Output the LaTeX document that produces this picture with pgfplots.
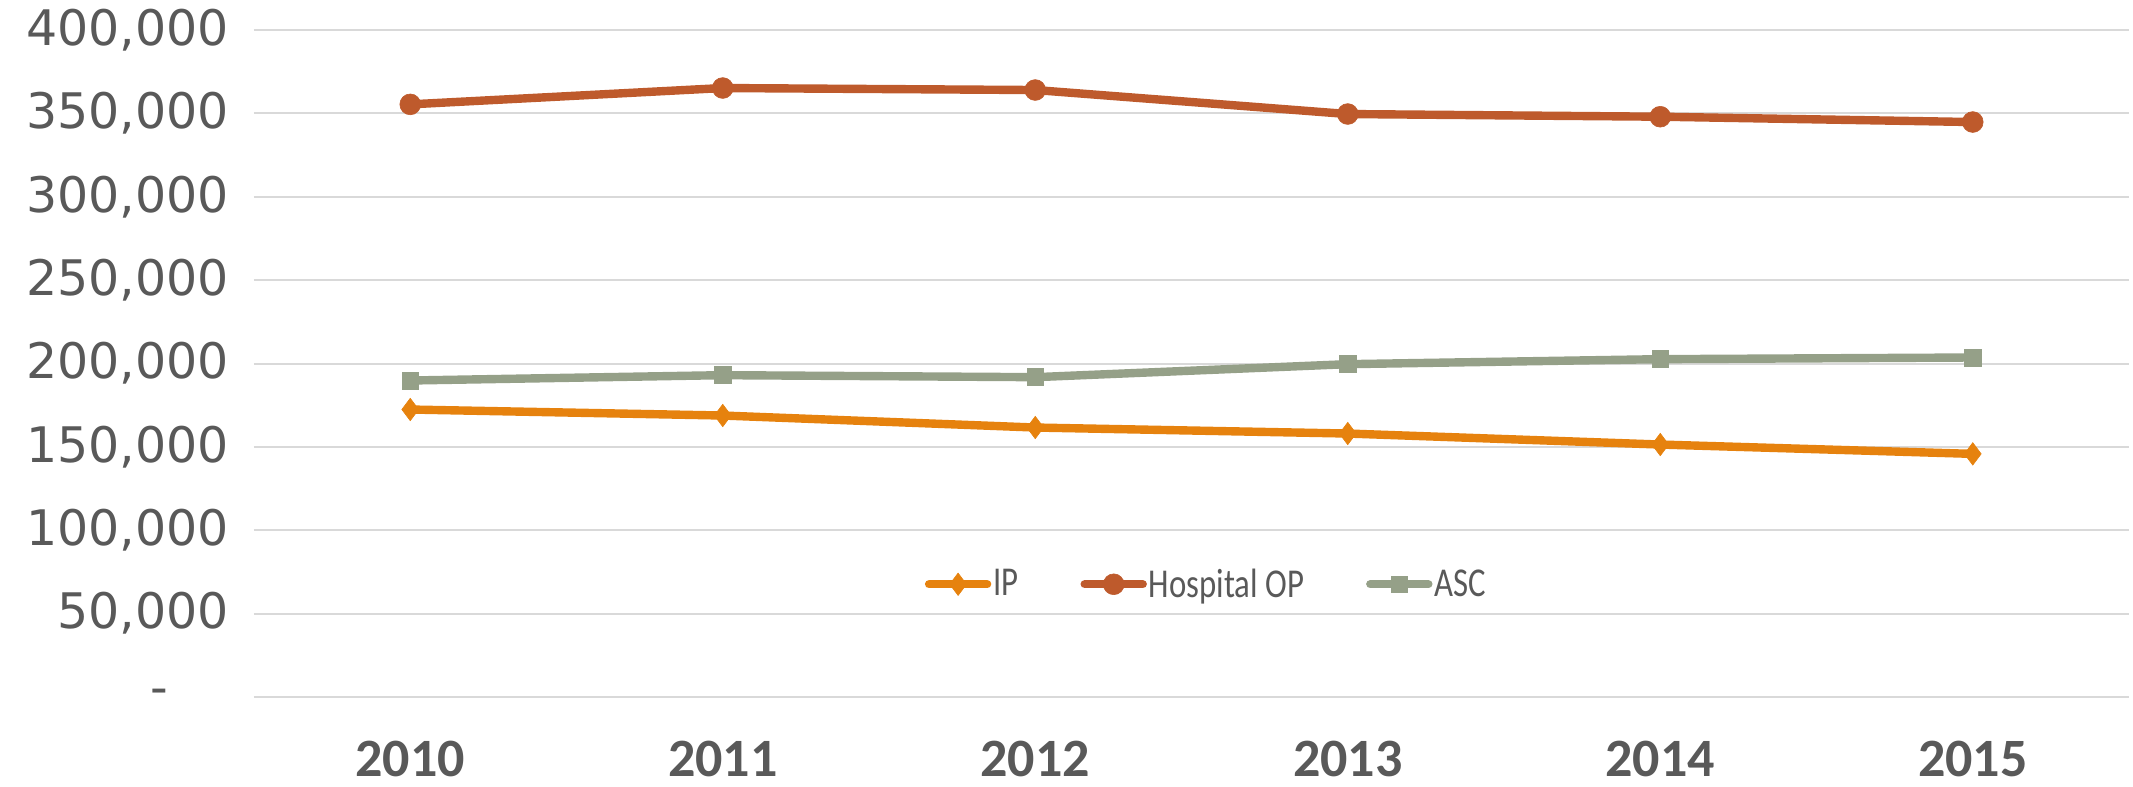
\documentclass[border=0pt]{standalone}
\usepackage{fontspec}
\setmainfont{Carlito}
\newfontfamily\dejavu{DejaVu Sans}
\newfontfamily\legfont{Carlito}[FakeStretch=0.8]
\usepackage{pgfplots}
\pgfplotsset{compat=1.18}
\definecolor{ipc}{HTML}{E6820E}
\definecolor{opc}{HTML}{BE5A2C}
\definecolor{ascc}{HTML}{95A088}
\definecolor{gridc}{HTML}{D9D9D9}
\definecolor{txt}{HTML}{595959}
\begin{document}
\begin{tikzpicture}
\begin{axis}[
  name=ax,
  scale only axis,
  width=937.5pt, height=333.5pt,
  xmin=-0.5, xmax=5.5,
  ymin=0, ymax=400000,
  scaled y ticks=false,
  xtick={0,1,2,3,4,5},
  xticklabels={2010,2011,2012,2013,2014,2015},
  ytick={0,50000,100000,150000,200000,250000,300000,350000,400000},
  yticklabels={{\makebox[40pt][l]{\hspace{1pt}\raisebox{-2.7pt}{-}}},{50,000},{100,000},{150,000},{200,000},{250,000},{300,000},{350,000},{400,000}},
  axis line style={draw=none},
  major tick length=0pt,
  ymajorgrids,
  grid style={gridc, line width=1pt},
  xticklabel style={font=\bfseries\fontsize{27}{27}\selectfont, text=txt, yshift=-18.5pt},
  yticklabel style={font=\dejavu\fontsize{24.5}{24.5}\selectfont, text=txt, xshift=-9pt},
  legend style={at={(0.508,0.169)}, anchor=center, draw=none, fill=none,
    font=\legfont\fontsize{20.5}{20.5}\selectfont, text=txt,
    /tikz/every even column/.append style={column sep=30pt},
    nodes={inner sep=1pt}},
  legend columns=-1,
  legend image code/.code={\draw[mark repeat=2,mark phase=2,line cap=round,#1] plot coordinates {(0pt,0pt) (14.5pt,0pt) (29pt,0pt)};},
]
\addplot[ipc, line width=4.2pt, mark=diamond*, mark size=5.6pt, mark options={solid, fill=ipc, draw=ipc, line width=0.3pt}]
  coordinates {(0,172400) (1,168800) (2,161600) (3,158000) (4,151400) (5,145800)};
\addlegendentry{IP}
\addplot[opc, line width=4.2pt, mark=*, mark size=5.2pt, mark options={solid, fill=opc, draw=opc, line width=0.3pt}]
  coordinates {(0,355400) (1,365200) (2,364000) (3,349600) (4,348000) (5,344800)};
\addlegendentry{Hospital OP}
\addplot[ascc, line width=4.2pt, mark=square*, mark size=4.2pt, mark options={solid, fill=ascc, draw=ascc, line width=0.3pt}]
  coordinates {(0,189800) (1,193000) (2,191800) (3,199600) (4,202600) (5,203600)};
\addlegendentry{ASC}
\end{axis}
\pgfresetboundingbox
\path ([xshift=-127pt,yshift=-45pt]ax.south west) rectangle ([xshift=2pt,yshift=15pt]ax.north east);
\end{tikzpicture}
\end{document}
